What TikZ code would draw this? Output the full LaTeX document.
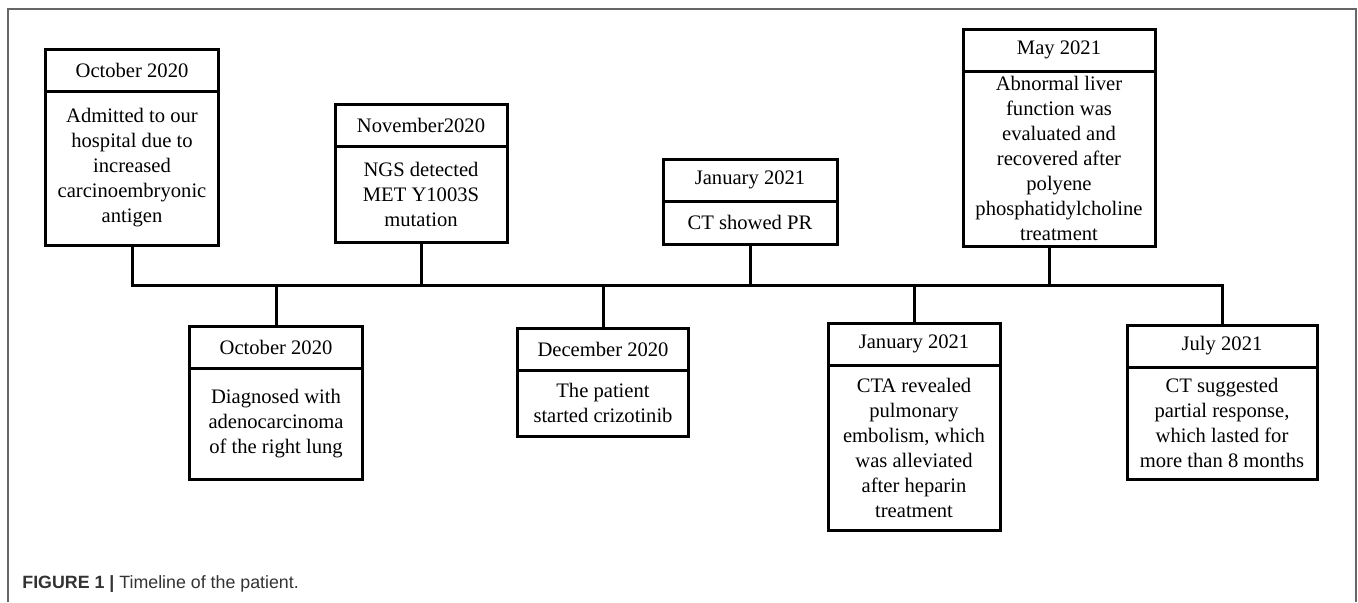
\documentclass[tikz,border=0pt]{standalone}
\usepackage{fontspec}
\setmainfont{Liberation Serif}
\newfontfamily\capfont{Liberation Sans}
\usepackage{tikz}
\usetikzlibrary{positioning,calc}
\tikzset{
  tlhead/.style={
    rectangle, draw=black, line width=1.5pt, fill=white,
    minimum height=21pt, align=center, outer sep=0pt,
    font=\fontsize{10.3}{12.5}\selectfont, anchor=north
  },
  tlbody/.style={
    rectangle, draw=black, line width=1.5pt, fill=white,
    align=center, outer sep=0pt, inner ysep=1pt,
    font=\fontsize{10.3}{12.5}\selectfont
  },
  tlline/.style={line width=1.5pt, draw=black},
  tlframe/.style={line width=0.6pt, draw=black!60},
}

\begin{document}
\begin{tikzpicture}[x=0.5pt, y=-0.5pt, node distance=0pt]
  \useasboundingbox (0,0) rectangle (1358,602);
  \draw[tlframe] (8,602) |- (1356,9) -- (1356,602);

  % above the axis
  \node (h1) [tlhead, minimum width=86.5pt] at (132,49) {October 2020};
  \node (b1) [tlbody, minimum width=86.5pt, minimum height=77pt, below=of h1]
    {Admitted to our\\hospital due to\\increased\\carcinoembryonic\\antigen};
  \node (h2) [tlhead, minimum width=86pt] at (421,104) {November2020};
  \node (b2) [tlbody, minimum width=86pt, minimum height=48pt, below=of h2]
    {NGS detected\\MET Y1003S\\mutation};
  \node (h3) [tlhead, minimum width=87pt] at (750,159) {January 2021};
  \node (b3) [tlbody, minimum width=87pt, minimum height=21.5pt, below=of h3]
    {CT showed PR};
  \node (h4) [tlhead, minimum width=96pt] at (1059,29) {May 2021};
  \node (b4) [tlbody, minimum width=96pt, minimum height=87.5pt, below=of h4]
    {Abnormal liver\\function was\\evaluated and\\recovered after\\polyene\\phosphatidylcholine\\treatment};

  % below the axis
  \node (h5) [tlhead, minimum width=86.5pt] at (276,326) {October 2020};
  \node (b5) [tlbody, minimum width=86.5pt, minimum height=55.5pt, below=of h5]
    {Diagnosed with\\adenocarcinoma\\of the right lung};
  \node (h6) [tlhead, minimum width=85.5pt] at (603,328) {December 2020};
  \node (b6) [tlbody, minimum width=85.5pt, minimum height=33pt, below=of h6]
    {The patient\\started crizotinib};
  \node (h7) [tlhead, minimum width=86pt] at (914,323) {January 2021};
  \node (b7) [tlbody, minimum width=86pt, minimum height=82.5pt, below=of h7]
    {CTA revealed\\pulmonary\\embolism, which\\was alleviated\\after heparin\\treatment};
  \node (h8) [tlhead, minimum width=95pt] at (1222,325) {July 2021};
  \node (b8) [tlbody, minimum width=95pt, minimum height=56pt, below=of h8]
    {CT suggested\\partial response,\\which lasted for\\more than 8 months};

  % axis and stubs
  \coordinate (ax) at (0,285);
  \draw[tlline] (b1.south) -- (b1.south |- ax) -- (h8.north |- ax) -- (h8.north);
  \foreach \n in {b2,b3} {
    \draw[tlline] (\n.south) -- (\n.south |- ax);
  }
  \draw[tlline] ([xshift=-5pt]b4.south) -- ([xshift=-5pt]b4.south |- ax);
  \foreach \n in {h5,h6,h7} {
    \draw[tlline] (\n.north) -- (\n.north |- ax);
  }

  \node (cap) [anchor=base west, text=black!80, inner sep=0pt,
    font=\capfont\fontsize{8.9}{10}\selectfont] at (22,588)
    {\textbf{FIGURE 1 |} Timeline of the patient.};
\end{tikzpicture}
\end{document}
